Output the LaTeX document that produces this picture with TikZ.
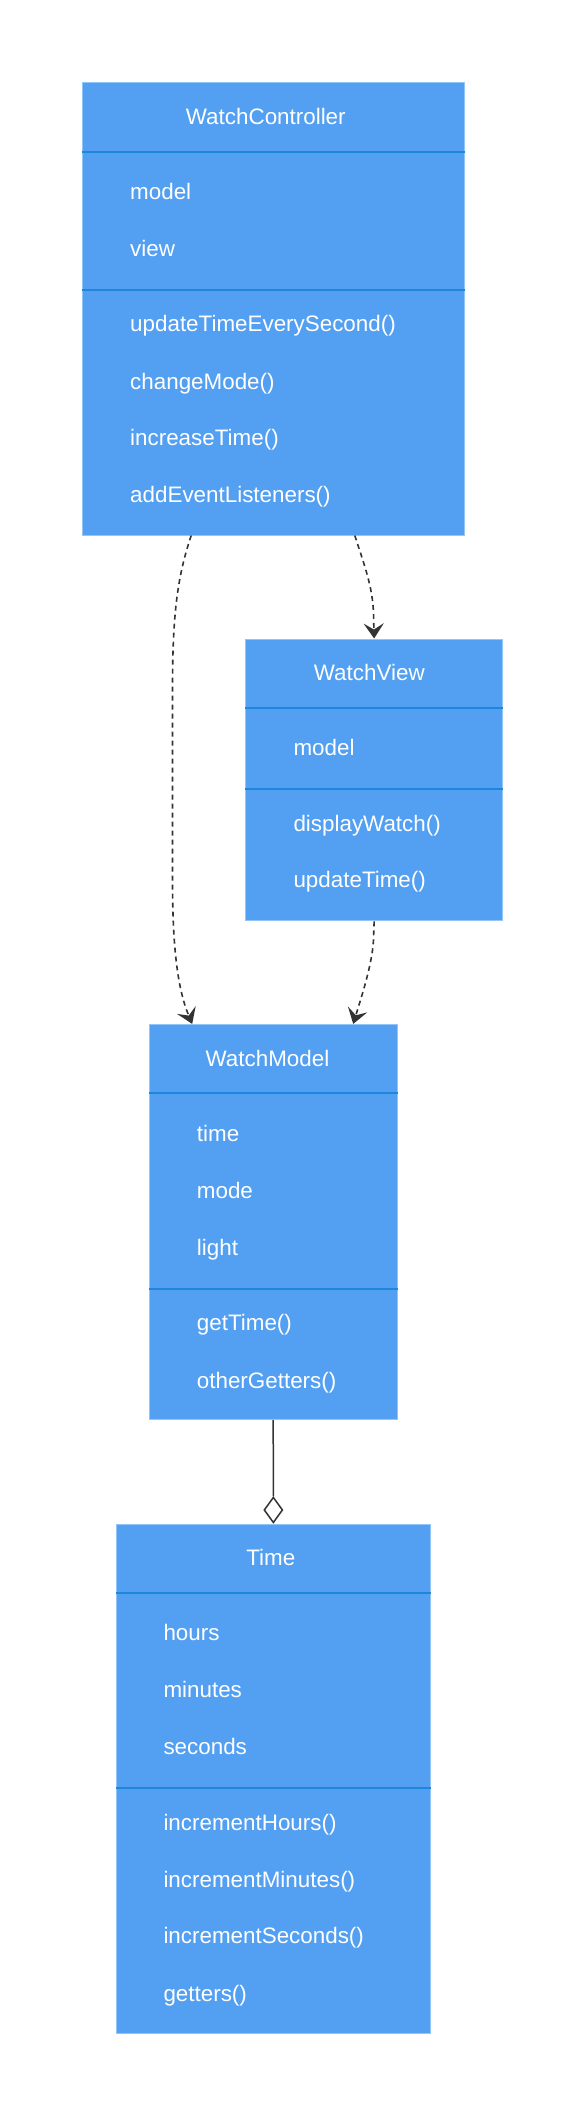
\documentclass[tikz,border=0pt]{standalone}
\usepackage{fontspec}
\setmainfont{Liberation Sans}
\usetikzlibrary{arrows.meta,shapes.geometric,calc}
\definecolor{boxfill}{HTML}{539FF1}
\definecolor{boxline}{HTML}{92C5F8}
\definecolor{divline}{HTML}{1F86DE}
\definecolor{conn}{HTML}{333333}
\tikzset{
  classbox/.style={draw=boxline, line width=1pt, fill=boxfill, anchor=north west, inner sep=0pt},
  divider/.style={draw=divline, line width=2pt},
  ttl/.style={anchor=base, text=white, inner sep=0pt, font=\fontsize{22.4}{26}\selectfont},
  item/.style={anchor=base west, text=white, inner sep=0pt, font=\fontsize{22.4}{26}\selectfont},
  dep/.style={draw=conn, line width=1.6pt, dash pattern=on 5pt off 4pt, -{Stealth[length=15pt,width=20pt,inset=6pt]}},
  agg/.style={draw=conn, line width=1.5pt},
  aggdiamond/.style={diamond, draw=conn, fill=white, line width=1.5pt, minimum width=18.7pt, minimum height=25.6pt, inner sep=0pt, aspect=0.73}
}
\begin{document}
\begin{tikzpicture}[x=1pt,y=-1pt]
\useasboundingbox (0,0) rectangle (584,2115);
\fill[white] (0,0) rectangle (584,2115);

% WatchController
\node[classbox, minimum width=382.3pt, minimum height=452.7pt] (wc) at (81.7,81.8) {};
\draw[divider] ([yshift=-69.7pt]wc.north west) -- ([yshift=-69.7pt]wc.north east);
\draw[divider] ([yshift=-207.8pt]wc.north west) -- ([yshift=-207.8pt]wc.north east);
\node[ttl] (wct) at (265.8,124) {WatchController};
\node[item] (wca1) at (130,199.8) {model};
\node[item] (wca2) at (130,256) {view};
\node[item] (wcm1) at (130,331.8) {updateTimeEverySecond()};
\node[item] (wcm2) at (130,389.2) {changeMode()};
\node[item] (wcm3) at (130,445.4) {increaseTime()};
\node[item] (wcm4) at (130,502.8) {addEventListeners()};

% WatchView
\node[classbox, minimum width=257.3pt, minimum height=281.8pt] (wv) at (245,638.5) {};
\draw[divider] ([yshift=-69.5pt]wv.north west) -- ([yshift=-69.5pt]wv.north east);
\draw[divider] ([yshift=-150.5pt]wv.north west) -- ([yshift=-150.5pt]wv.north east);
\node[ttl] (wvt) at (369.3,680.2) {WatchView};
\node[item] (wva1) at (293.3,755.2) {model};
\node[item] (wvm1) at (293.3,831.2) {displayWatch()};
\node[item] (wvm2) at (293.3,887.8) {updateTime()};

% WatchModel
\node[classbox, minimum width=248pt, minimum height=395.2pt] (wm) at (148.7,1023.9) {};
\draw[divider] ([yshift=-69.4pt]wm.north west) -- ([yshift=-69.4pt]wm.north east);
\draw[divider] ([yshift=-264.8pt]wm.north west) -- ([yshift=-264.8pt]wm.north east);
\node[ttl] (wmt) at (267.5,1066.4) {WatchModel};
\node[item] (wma1) at (196.7,1141.8) {time};
\node[item] (wma2) at (196.7,1198.6) {mode};
\node[item] (wma3) at (196.7,1255.8) {light};
\node[item] (wmm1) at (196.7,1330.5) {getTime()};
\node[item] (wmm2) at (196.7,1388) {otherGetters()};

% Time
\node[classbox, minimum width=314.3pt, minimum height=509.6pt] (tm) at (115.7,1523.5) {};
\draw[divider] ([yshift=-69.5pt]tm.north west) -- ([yshift=-69.5pt]tm.north east);
\draw[divider] ([yshift=-264.8pt]tm.north west) -- ([yshift=-264.8pt]tm.north east);
\node[ttl] (tmt) at (270.8,1565.3) {Time};
\node[item] (tma1) at (163.3,1640.7) {hours};
\node[item] (tma2) at (163.3,1697.2) {minutes};
\node[item] (tma3) at (163.3,1754) {seconds};
\node[item] (tmm1) at (163.3,1830.1) {incrementHours()};
\node[item] (tmm2) at (163.3,1887.3) {incrementMinutes()};
\node[item] (tmm3) at (163.3,1943.4) {incrementSeconds()};
\node[item] (tmm4) at (163.3,2001.3) {getters()};

% connectors
\coordinate (s1) at ([xshift=-82.15pt]wc.south);
\coordinate (e1) at ([xshift=-81pt]wm.north);
\coordinate (s2) at ([xshift=81.45pt]wc.south);
\coordinate (e2) at (wv.north);
\coordinate (s3) at (wv.south);
\coordinate (e3) at ([xshift=80pt]wm.north);

\draw[dep] (s1) .. controls (178,575) and (173,610) .. (172.5,680) -- (172.5,880) .. controls (172.5,950) and (178,990) .. (e1);
\draw[dep] (s2) .. controls (366,570) and (373.65,590) .. (373.65,620) -- (e2);
\draw[dep] (s3) -- (373.65,935) .. controls (373.65,960) and (362,995) .. (e3);

\node[aggdiamond, anchor=south] (dia) at (tm.north) {};
\draw[agg] (wm.south) -- (dia.north);
\end{tikzpicture}
\end{document}
